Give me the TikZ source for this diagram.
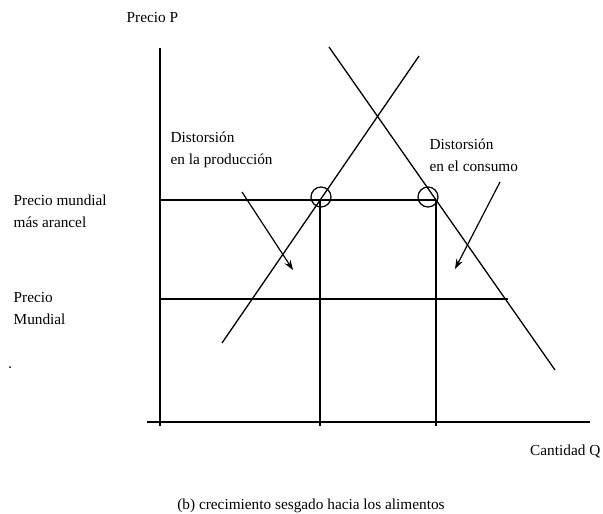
\documentclass[tikz,border=0pt]{standalone}
\usepackage{fontspec}
\setmainfont{Liberation Serif}
\usetikzlibrary{arrows.meta}
\begin{document}
\begin{tikzpicture}[x=1pt,y=-1pt,
  line width=1.3pt,
  every node/.style={font=\fontsize{15.3}{22}\selectfont, inner sep=0pt},
  lbl/.style={anchor=north west, align=left},
  mark circle/.style={circle, draw, line width=1.2pt, minimum size=20pt},
  pointer/.style={-{Stealth[length=10pt,width=7pt]}, line width=1.2pt}]
\useasboundingbox (0,0) rectangle (603,514);
% axes
\coordinate (O) at (160,422);
\coordinate (Ytop) at (160,48);
\coordinate (Xl) at (147,422);
\coordinate (Xr) at (590,422);
\draw (O |- 0,426) -- (Ytop);
\draw (Xl) -- (Xr);
% supply and demand
\coordinate (S1) at (222,343);
\coordinate (S2) at (419,56);
\coordinate (D1) at (329,47);
\coordinate (D2) at (555,370);
\draw (S1) -- (S2);
\draw (D1) -- (D2);
% price lines
\coordinate (A) at (320,200);
\coordinate (B) at (436,200);
\coordinate (Pw) at (160,299);
\coordinate (PwE) at (508,299);
\draw (160,200) -- (B);
\draw (Pw) -- (PwE);
\draw (A) -- (320,426);
\draw (B) -- (436,426);
% circles
\node[mark circle] (cA) at (321,197) {};
\node[mark circle] (cB) at (428,197) {};
% arrows
\coordinate (a1s) at (242,192);
\coordinate (a1e) at (293,270);
\coordinate (a2s) at (500,182);
\coordinate (a2e) at (455,269);
\draw[pointer] (a1s) -- (a1e);
\draw[pointer] (a2s) -- (a2e);
% labels
\node[anchor=base west] (lp) at (126,22) {Precio P};
\node[lbl] (lpa) at (13,194) {Precio mundial\\más arancel};
\node[lbl] (lpm) at (13,292) {Precio\\Mundial};
\node[lbl] (ldp) at (170,131) {Distorsión\\en la producción};
\node[lbl] (ldc) at (429,138) {Distorsión\\en el consumo};
\node[anchor=base east] (lq) at (601,455) {Cantidad Q};
\node[anchor=base] (cap) at (311,509) {(b) crecimiento sesgado hacia los alimentos};
\fill (10,367) circle (1pt);
\end{tikzpicture}
\end{document}
